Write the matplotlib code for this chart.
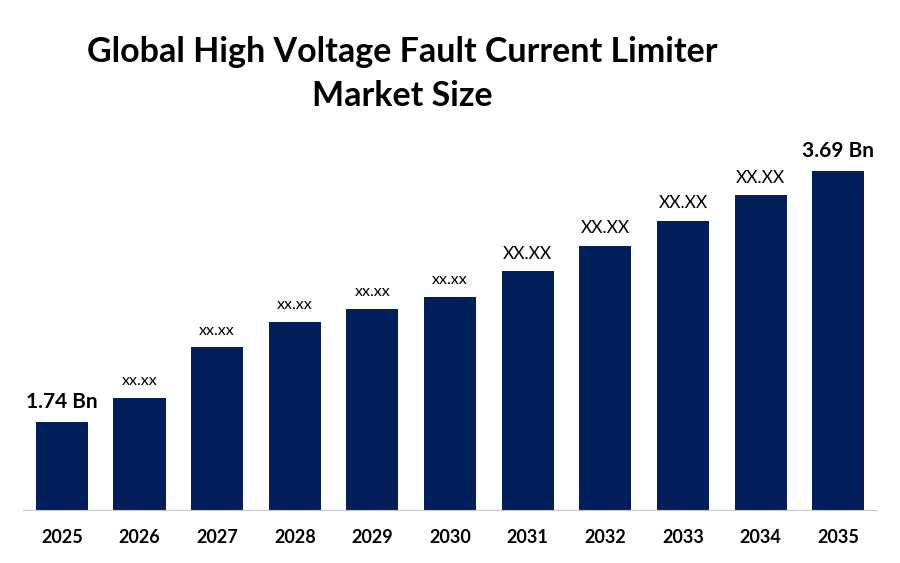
import matplotlib
matplotlib.use("Agg")
import matplotlib.pyplot as plt

plt.rcParams['font.family'] = ['Lato', 'DejaVu Sans']

years = ['2025', '2026', '2027', '2028', '2029', '2030',
         '2031', '2032', '2033', '2034', '2035']
# market size (USD Bn), intermediate years
values = [1.74, 1.93, 2.32, 2.52, 2.62, 2.71, 2.91, 3.11, 3.30, 3.50, 3.69]
labels = ['1.74 Bn', 'xx.xx', 'xx.xx', 'xx.xx', 'xx.xx', 'xx.xx',
          'XX.XX', 'XX.XX', 'XX.XX', 'XX.XX', '3.69 Bn']

bar_color = '#001F5B'

fig = plt.figure(figsize=(9, 5.63), dpi=100)
ax = fig.add_axes([0.0256, 0.0941, 0.949, 0.6394])

x = range(len(years))
bars = ax.bar(x, values, width=0.67, color=bar_color)

ax.set_xlim(-0.5, len(years) - 0.5)
ax.set_ylim(1.056, 3.853)

for i, (b, lab) in enumerate(zip(bars, labels)):
    if 'Bn' in lab:
        fs, fw = 15, 'bold'
    elif lab.isupper():
        fs, fw = 12.5, 'normal'
    else:
        fs, fw = 11.5, 'normal'
    ax.annotate(lab, (b.get_x() + b.get_width() / 2, b.get_height()),
                xytext=(0, 7), textcoords='offset points',
                ha='center', va='bottom', fontsize=fs, fontweight=fw,
                color='black')

ax.set_xticks(list(x))
ax.set_xticklabels(years, fontsize=13, fontweight='bold')
ax.tick_params(axis='x', length=0, pad=14)
ax.set_yticks([])

for s in ['top', 'right', 'left']:
    ax.spines[s].set_visible(False)
ax.spines['bottom'].set_color('#C8C8C8')
ax.spines['bottom'].set_linewidth(0.8)

fig.text(0.447, 0.868, 'Global High Voltage Fault Current Limiter\nMarket Size',
         ha='center', va='center', fontsize=24.5, fontweight='bold',
         linespacing=1.45)

fig.savefig('out.png', dpi=100)
